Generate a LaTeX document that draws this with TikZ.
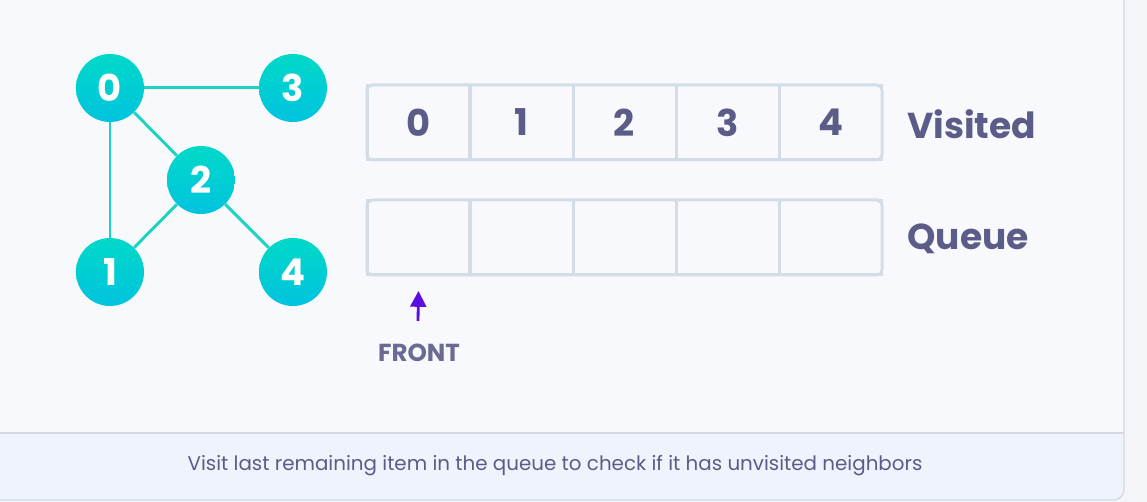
\documentclass[tikz,border=0pt]{standalone}
\usepackage{fontspec}
\setmainfont{Poppins}
\usetikzlibrary{arrows.meta}
\definecolor{bg}{HTML}{F8F9FC}
\definecolor{outer}{HTML}{F4F5F8}
\definecolor{strip}{HTML}{EFF3FC}
\definecolor{cardline}{HTML}{D5D9E2}
\definecolor{cellline}{HTML}{D4DDE6}
\definecolor{ink}{HTML}{5C5C88}
\definecolor{inklight}{HTML}{6A6A92}
\definecolor{edgec}{HTML}{1ED3C2}
\definecolor{ntop}{HTML}{00D9C8}
\definecolor{nbot}{HTML}{00C3DE}
\definecolor{arrowc}{HTML}{5A0EE0}
\tikzset{
  gnode/.style={circle, minimum size=1.36cm, inner sep=0pt, top color=ntop, bottom color=nbot, draw=none,
    text=white, font=\fontsize{21}{21}\selectfont\bfseries},
  gedge/.style={draw=edgec, line width=1.7pt},
  cell/.style={draw=cellline, line width=1.7pt, minimum width=2.06cm, minimum height=1.5cm, inner sep=0pt,
    text=ink, font=\fontsize{21}{21}\selectfont\bfseries},
  tbl/.style={draw=cellline, line width=1.7pt, rounded corners=3pt},
  rowlabel/.style={anchor=west, text=ink, font=\fontsize{20.5}{20.5}\selectfont\bfseries, inner sep=0pt}
}
\begin{document}
\begin{tikzpicture}[x=0.02cm,y=-0.02cm]
\useasboundingbox (0,0) rectangle (1147,502);
\fill[outer] (0,0) rectangle (1147,502);
% card
\fill[bg] (-10,-10) rectangle (1124,433);
\fill[strip, rounded corners=6pt] (-10,433) -- (1124,433) -- (1124,500) -- (-10,500) -- cycle;
\fill[strip] (-10,433) rectangle (1100,500);
\draw[cardline, line width=0.8pt] (-10,433) -- (1124,433);
\draw[cardline, line width=0.8pt, rounded corners=6pt] (1124,-10) -- (1124,500) -- (-10,500);
% graph
\node[gnode] (n0) at (110,88) {0};
\node[gnode] (n3) at (293,88) {3};
\node[gnode] (n2) at (201,180) {2};
\node[gnode] (n1) at (110,272) {1};
\node[gnode] (n4) at (293,272) {4};
\draw[gedge] (n0) -- (n3);
\draw[gedge] (n0) -- (n2);
\draw[gedge] (n0) -- (n1);
\draw[gedge] (n2) -- (n1);
\draw[gedge] (n2) -- (n4);
% visited
\foreach \i/\t in {0/0,1/1,2/2,3/3,4/4}{
  \node[cell] (v\i) at ({418.5+\i*103},122.5) {\t};
}
\foreach \i in {0,...,4}{
  \node[cell] (q\i) at ({418.5+\i*103},237.5) {};
}
\draw[tbl] (367,85) rectangle (882,160);
\draw[tbl] (367,200) rectangle (882,275);
\node[rowlabel] (lv) at (907,124) {Visited};
\node[rowlabel] (lq) at (907,239) {Queue};
% front
\coordinate (fa) at (418,321);
\node[text=inklight, font=\fontsize{14}{14}\selectfont\bfseries, inner sep=0pt] (front) at (419,353) {FRONT};
\draw[arrowc, line width=1.6pt, -{Triangle[length=9pt,width=9pt]}] (fa) -- (q0.south |- 0,291);
% caption
\node[text=ink, font=\fontsize{11.3}{11.3}\selectfont, inner sep=0pt] (cap) at (555,466) {Visit last remaining item in the queue to check if it has unvisited neighbors};
\end{tikzpicture}
\end{document}
